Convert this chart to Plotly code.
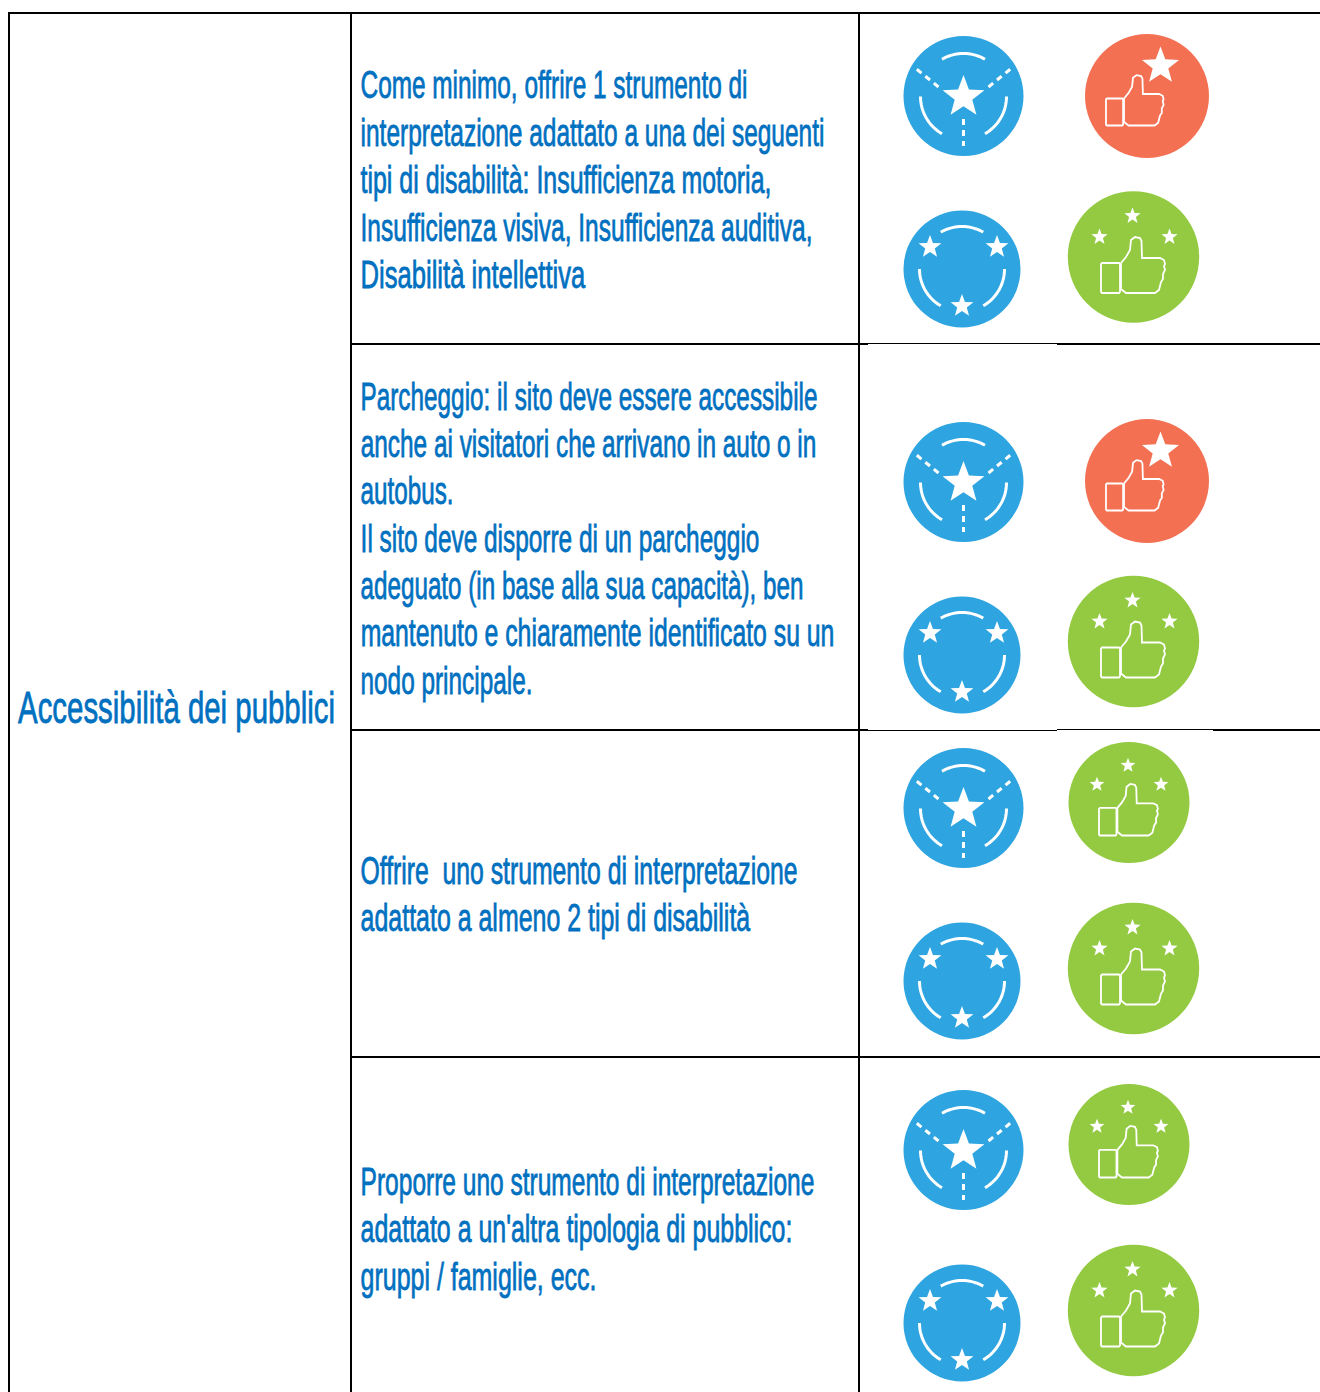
import json
import numpy as np
import plotly.graph_objects as go

# ---------- content ----------
heading = "Accessibilità dei pubblici"
row_lines = [
    ["Come minimo, offrire 1 strumento di",
     "interpretazione adattato a una dei seguenti",
     "tipi di disabilità: Insufficienza motoria,",
     "Insufficienza visiva, Insufficienza auditiva,",
     "Disabilità intellettiva"],
    ["Parcheggio: il sito deve essere accessibile",
     "anche ai visitatori che arrivano in auto o in",
     "autobus.",
     "Il sito deve disporre di un parcheggio",
     "adeguato (in base alla sua capacità), ben",
     "mantenuto e chiaramente identificato su un",
     "nodo principale."],
    ["Offrire\u00a0 uno strumento di interpretazione",
     "adattato a almeno 2 tipi di disabilità"],
    ["Proporre uno strumento di interpretazione",
     "adattato a un'altra tipologia di pubblico:",
     "gruppi / famiglie, ecc."],
]
row_icon_kinds = [
    ["blue_one", "orange", "blue_three", "green"],
    ["blue_one", "orange", "blue_three", "green"],
    ["blue_one", "green_small", "blue_three", "green"],
    ["blue_one", "green_small", "blue_three", "green"],
]

# ---------- layout constants (pixels) ----------
W, H = 1320, 1392
TEXT_BLUE = "#0070C0"
FONT = "Liberation Sans Narrow, Liberation Sans, sans-serif"
FS_BODY, FS_HEAD = 39, 44
TEXT_X, HEAD_X = 360.5, 18
row_line_y = [[84.5, 132.5, 179.5, 227.5, 274.5],
              [396, 443.5, 490.5, 538, 585.5, 632.5, 680],
              [870.5, 917.5],
              [1181.5, 1228.5, 1276]]
row_line_w = [[387, 464, 411, 452, 225],
              [457, 456, 93, 399, 443, 474, 172],
              [437, 390],
              [454, 432, 236]]
HEAD_Y, HEAD_W = 707.5, 317
row_icon_xy = [
    [(963.5, 96), (1147, 96), (962, 269), (1133.5, 257)],
    [(963.5, 482), (1147, 481), (962, 655), (1133.5, 641.5)],
    [(963.5, 808), (1129, 802.5), (962, 981), (1133.5, 968.5)],
    [(963.5, 1150), (1129, 1144.5), (962, 1323), (1133.5, 1310.5)],
]
shapes = []


def P(pts, close=True):
    return "M" + "L".join(f"{x:.2f},{y:.2f}" for x, y in pts) + ("Z" if close else "")


def add_line(x0, y0, x1, y1, w=2, color="#000"):
    shapes.append(dict(type="line", x0=x0, y0=y0, x1=x1, y1=y1,
                       line=dict(color=color, width=w), xref="x", yref="y"))


def disc(cx, cy, r, color):
    shapes.append(dict(type="circle", x0=cx - r, x1=cx + r, y0=cy - r, y1=cy + r,
                       fillcolor=color, line=dict(width=0), xref="x", yref="y"))


def star(cx, cy, R):
    pts = []
    for i in range(10):
        a = -np.pi / 2 + i * np.pi / 5
        rr = R if i % 2 == 0 else R * 0.42
        pts.append((cx + rr * np.cos(a), cy + rr * np.sin(a)))
    shapes.append(dict(type="path", path=P(pts), fillcolor="white",
                       line=dict(width=0), xref="x", yref="y"))


def arc(cx, cy, r, a0, a1, w=3):
    t = np.radians(np.linspace(a0, a1, 24))
    pts = list(zip(cx + r * np.cos(t), cy + r * np.sin(t)))
    shapes.append(dict(type="path", path=P(pts, close=False),
                       line=dict(color="white", width=w), xref="x", yref="y"))


def ring(cx, cy, r):
    arc(cx, cy, r, 240, 300)
    arc(cx, cy, r, 0, 60)
    arc(cx, cy, r, 120, 180)


def dashed(x0, y0, x1, y1):
    shapes.append(dict(type="line", x0=x0, y0=y0, x1=x1, y1=y1,
                       line=dict(color="white", width=3, dash="6px,5px"),
                       xref="x", yref="y"))


# thumb outline, relative to the lower-left corner of the fist box, for scale 1
FIST = [(1, 0), (0, -1), (0, -29), (1, -30), (18, -30), (19, -29), (19, -1), (18, 0)]
HAND = [(20, -4), (20, -30), (25, -36), (29, -43), (30, -53), (34, -56), (39, -55), (40.5, -52),
        (41, -35), (59, -35), (63, -33), (64, -29), (63, -27), (64, -23), (62, -19), (62, -14),
        (60, -11), (58, -3), (54, 0), (25, 0)]


def thumb(x, y, s):
    for poly in (FIST, HAND):
        pts = [(x + s * a, y + s * b) for a, b in poly]
        shapes.append(dict(type="path", path=P(pts),
                           line=dict(color="white", width=1.8), xref="x", yref="y"))


def icon(kind, cx, cy):
    if kind == "blue_one":
        disc(cx, cy, 60, "#2EA4E0")
        ring(cx, cy + 0.5, 43)
        star(cx, cy + 1, 22)
        dashed(cx, cy + 23, cx, cy + 50)
        dashed(cx - 25, cy - 9, cx - 47, cy - 27)
        dashed(cx + 25, cy - 9, cx + 47, cy - 27)
    elif kind == "blue_three":
        disc(cx, cy, 58.5, "#2EA4E0")
        ring(cx, cy, 42.5)
        star(cx - 32, cy - 22, 12)
        star(cx + 35, cy - 22, 12)
        star(cx, cy + 37, 12)
    elif kind == "orange":
        disc(cx, cy, 62, "#F37053")
        star(cx + 13.5, cy - 30, 19.5)
        thumb(cx - 41, cy + 29.5, 0.9)
    elif kind == "green":
        disc(cx, cy, 65.7, "#93CA42")
        star(cx - 1, cy - 41, 8.5)
        star(cx - 34, cy - 20, 8.5)
        star(cx + 36, cy - 20, 8.5)
        thumb(cx - 32.5, cy + 36, 1.0)
    else:
        disc(cx, cy, 60.5, "#93CA42")
        star(cx - 1, cy - 37, 7.8)
        star(cx - 32, cy - 18, 7.8)
        star(cx + 32, cy - 18, 7.8)
        thumb(cx - 30, cy + 33, 0.92)


# ---------- grid ----------
add_line(8, 13, W, 13)
for vx in (9, 351, 859):
    add_line(vx, 13, vx, H)
add_line(351, 344, 868, 344)
add_line(868, 343.5, 1057, 343.5, 1)
add_line(1057, 344, W, 344, 2)
add_line(351, 730, 868, 730)
add_line(868, 730.5, 1057, 730.5, 1)
add_line(1057, 729.5, 1213, 729.5, 1)
add_line(1213, 730, W, 730)
add_line(351, 1057, W, 1057)

# ---------- icons ----------
for kinds, xys in zip(row_icon_kinds, row_icon_xy):
    for kind, (ix, iy) in zip(kinds, xys):
        icon(kind, ix, iy)

# ---------- text ----------
annotations = []
fit = []


def add_text(txt, x, y, width, size):
    annotations.append(dict(text=txt, x=x, y=y, xref="x", yref="y", xanchor="left",
                            yanchor="middle", showarrow=False,
                            font=dict(family=FONT, size=size, color=TEXT_BLUE)))
    fit.append([x, width])


add_text(heading, HEAD_X, HEAD_Y, HEAD_W, FS_HEAD)
for lines, ys, ws in zip(row_lines, row_line_y, row_line_w):
    for t, yy, ww in zip(lines, ys, ws):
        add_text(t, TEXT_X, yy, ww, FS_BODY)

fig = go.Figure()
fig.add_trace(go.Scatter(x=[], y=[], hoverinfo="skip", showlegend=False))
fig.update_layout(
    width=W, height=H, margin=dict(l=0, r=0, t=0, b=0, pad=0),
    paper_bgcolor="white", plot_bgcolor="white", showlegend=False,
    xaxis=dict(range=[0, W], visible=False, fixedrange=True),
    yaxis=dict(range=[H, 0], visible=False, fixedrange=True),
    shapes=shapes, annotations=annotations,
)

# The reference face is far more condensed than any installed font, so each
# line is squeezed horizontally to the width it has in the picture.
post = """
var fit = %s;
var gd = document.getElementById('{plot_id}');
var els = gd.querySelectorAll('.annotation-text');
var g = gd.getBoundingClientRect();
els.forEach(function (el, i) {
  var b = el.getBBox();
  var r = el.getBoundingClientRect();
  var sx = fit[i][1] / b.width;
  var origin = (r.left - g.left) - b.x;
  var tx = fit[i][0] - origin - sx * b.x;
  el.setAttribute('transform', 'translate(' + tx + ',0) scale(' + sx + ',1)');
  el.style.stroke = '%s';
  el.style.strokeWidth = '0.8px';
  el.style.paintOrder = 'stroke';
  var bg = el.parentNode.querySelector('rect.bg');
  if (bg) { bg.setAttribute('width', 0); bg.setAttribute('height', 0); }
});
""" % (json.dumps(fit), TEXT_BLUE)

fig.write_html("out.html", post_script=post,
               config=dict(displayModeBar=False, responsive=False),
               default_width=W, default_height=H)
with open("out.html", encoding="utf-8") as f:
    page = f.read()
page = page.replace("<head>", "<head><style>html,body{margin:0;padding:0;background:#fff}</style>", 1)
with open("out.html", "w", encoding="utf-8") as f:
    f.write(page)
